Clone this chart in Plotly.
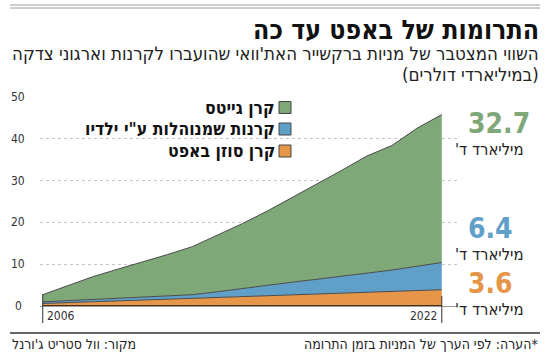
import plotly.graph_objects as go

years = list(range(2006, 2023))
# stacked segment values (billions $)
susan = [0.6, 0.8, 1.0, 1.2, 1.4, 1.6, 1.8, 2.0, 2.2, 2.5, 2.7, 2.9, 3.1, 3.3, 3.5, 3.7, 3.9]
children = [0.4, 0.5, 0.6, 0.7, 0.7, 0.8, 0.9, 1.4, 2.0, 2.4, 3.0, 3.5, 4.0, 4.6, 5.1, 5.8, 6.5]
gates = [1.7, 3.6, 5.4, 6.9, 8.4, 9.9, 11.5, 13.5, 15.5, 17.8, 20.2, 22.8, 25.4, 28.0, 29.8, 33.0, 35.4]

series_names = ["קרן גייטס", "קרנות שמנוהלות ע\"י ילדיו", "קרן סוזן באפט"]
end_labels = ["32.7", "6.4", "3.6"]
y_ticks = [0, 10, 20, 30, 40, 50]
x_tick_labels = ["2006", "2022"]

GREEN = "#7fa879"
BLUE = "#60a0c8"
ORANGE = "#e69648"
LINE = "#4a4a4a"
TEXT = "#222222"
FONT = "DejaVu Sans Condensed, DejaVu Sans, Liberation Sans, sans-serif"

W, H = 550, 354
L, R, T, B = 40, 93, 97, 48
PW, PH = W - L - R, H - T - B


def px(x):
    return (x - L) / PW


def py(y):
    return (H - B - y) / PH


fig = go.Figure()
for vals, col in [(susan, ORANGE), (children, BLUE), (gates, GREEN)]:
    fig.add_trace(go.Scatter(
        x=years, y=vals, stackgroup="one", mode="lines",
        line=dict(color=LINE, width=1), fillcolor=col, hoverinfo="skip",
        showlegend=False))

ann = []
shapes = []

# top rules
for yy in (5, 8):
    shapes.append(dict(type="line", xref="paper", yref="paper", x0=px(10), x1=px(540),
                       y0=py(yy), y1=py(yy), line=dict(color="#9a9a9a", width=1)))
# footer rule
shapes.append(dict(type="line", xref="paper", yref="paper", x0=px(10), x1=px(540),
                   y0=py(333), y1=py(333), line=dict(color="#666666", width=2)))

# baseline under the area
shapes.append(dict(type="line", xref="x", yref="y", x0=years[0], x1=years[-1], y0=0, y1=0,
                   line=dict(color="#111111", width=1.5)))
# tick marks for first/last year
shapes.append(dict(type="line", xref="x", yref="paper", x0=years[0], x1=years[0],
                   y0=py(323), y1=py(294), line=dict(color="#333333", width=1)))
shapes.append(dict(type="line", xref="x", yref="paper", x0=years[-1], x1=years[-1],
                   y0=py(323), y1=py(296), line=dict(color="#333333", width=1)))

# title & subtitle
ann.append(dict(text="<b>התרומות של באפט עד כה</b>", xref="paper", yref="paper",
                x=px(541), y=py(29), xanchor="right", yanchor="middle", showarrow=False,
                font=dict(size=26.5, color="#111111", family=FONT)))
ann.append(dict(text="השווי המצטבר של מניות ברקשייר האת'וואי שהועברו לקרנות וארגוני צדקה",
                xref="paper", yref="paper", x=px(541), y=py(53), xanchor="right",
                yanchor="middle", showarrow=False, font=dict(size=18.5, color=TEXT, family=FONT)))
ann.append(dict(text="(במיליארדי דולרים)", xref="paper", yref="paper", x=px(541), y=py(75),
                xanchor="right", yanchor="middle", showarrow=False,
                font=dict(size=18.5, color=TEXT, family=FONT)))

# y tick labels
for v in y_ticks:
    ann.append(dict(text=str(v), xref="paper", yref="y", x=px(18), y=v, xanchor="center",
                    yanchor="middle", showarrow=False, font=dict(size=12, color="#333", family=FONT)))
# x tick labels
ann.append(dict(text=x_tick_labels[0], xref="x", yref="paper", x=years[0], y=py(316),
                xanchor="left", yanchor="middle", xshift=2, showarrow=False,
                font=dict(size=12, color="#333", family=FONT)))
ann.append(dict(text=x_tick_labels[1], xref="x", yref="paper", x=years[-1], y=py(316),
                xanchor="right", yanchor="middle", xshift=-3, showarrow=False,
                font=dict(size=12, color="#333", family=FONT)))

# legend
for name, col, yc in zip(series_names, [GREEN, BLUE, ORANGE], [107.5, 129, 151]):
    shapes.append(dict(type="rect", xref="paper", yref="paper", x0=px(279), x1=px(291),
                       y0=py(yc + 6), y1=py(yc - 6), fillcolor=col,
                       line=dict(color="#444", width=1)))
    ann.append(dict(text="<b>" + name + "</b>", xref="paper", yref="paper", x=px(277), y=py(yc),
                    xanchor="right", yanchor="middle", showarrow=False,
                    font=dict(size=17.5, color="#111", family=FONT)))

# end labels
for lab, col, yc in zip(end_labels, [GREEN, BLUE, ORANGE], [123, 228, 283]):
    ann.append(dict(text="<b>" + lab + "</b>", xref="paper", yref="paper", x=px(466), y=py(yc),
                    xanchor="left", yanchor="middle", showarrow=False,
                    font=dict(size=28, color=col, family=FONT)))
    ann.append(dict(text="'מיליארד ד", xref="paper", yref="paper", x=px(525), y=py(yc + 26),
                    xanchor="right", yanchor="middle", showarrow=False,
                    font=dict(size=16.5, color=TEXT, family=FONT)))

# footer
ann.append(dict(text="מקור: וול סטריט ג'ורנל", xref="paper", yref="paper", x=px(10), y=py(344),
                xanchor="left", yanchor="middle", showarrow=False,
                font=dict(size=14, color=TEXT, family=FONT)))
ann.append(dict(text="הערה: לפי הערך של המניות בזמן התרומה*", xref="paper", yref="paper",
                x=px(540), y=py(344), xanchor="right", yanchor="middle", showarrow=False,
                font=dict(size=14, color=TEXT, family=FONT)))

fig.update_layout(
    width=W, height=H, margin=dict(l=L, r=R, t=T, b=B),
    paper_bgcolor="white", plot_bgcolor="white",
    xaxis=dict(range=[2005.89, 2022.61], showgrid=False, showticklabels=False,
               zeroline=False, showline=False, ticks="", fixedrange=True),
    yaxis=dict(range=[0, 50], tickvals=y_ticks, showticklabels=False, showgrid=True,
               gridcolor="#c4c4c4", griddash="dot", gridwidth=1, zeroline=True,
               zerolinecolor="#999999", zerolinewidth=1, showline=False, ticks="",
               fixedrange=True),
    annotations=ann, shapes=shapes, showlegend=False,
)

fig.write_html("out.html")
